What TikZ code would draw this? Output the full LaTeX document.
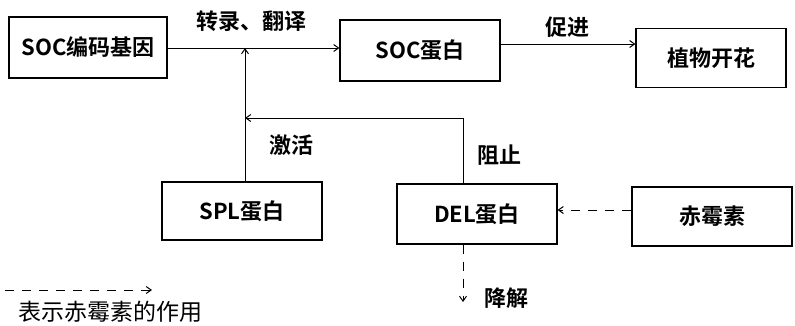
\documentclass[tikz,border=0pt]{standalone}
\usepackage{fontspec}
\setmainfont{Noto Sans CJK SC}[BoldFont={Noto Sans CJK SC Bold}]
\usetikzlibrary{arrows.meta}
\begin{document}
\begin{tikzpicture}[x=1pt,y=-1pt,
  box/.style={draw,line width=1.1pt,inner sep=0pt,font=\bfseries\fontsize{22}{24}\selectfont},
  lbl/.style={font=\bfseries\fontsize{22}{24}\selectfont,inner sep=0pt},
  arr/.style={line width=1pt,-{Straight Barb[length=5pt,width=7pt]}},
  darr/.style={line width=1pt,dash pattern=on 9pt off 8pt,-{Straight Barb[length=5pt,width=7pt]}}]
\useasboundingbox (0,0) rectangle (795,325);
\node[box,minimum width=158pt,minimum height=61pt] (gene) at (88,47.5) {SOC编码基因};
\node[box,minimum width=160pt,minimum height=61pt] (soc) at (420,50.5) {SOC蛋白};
\node[box,minimum width=150pt,minimum height=59pt] (flower) at (711,58) {植物开花};
\node[box,minimum width=160pt,minimum height=58pt] (spl) at (242,211) {SPL蛋白};
\node[box,minimum width=160pt,minimum height=60pt] (del) at (477,214) {DEL蛋白};
\node[box,minimum width=160pt,minimum height=59pt] (ga) at (712,216.5) {赤霉素};
\coordinate (j1) at (245,48);
\coordinate (j2) at (245,118);
\coordinate (c1) at (463,118);
\coordinate (deg) at (463,302);
\coordinate (lg1) at (5,290);
\coordinate (lg2) at (152,290);
\draw[arr] (gene.east |- j1) -- (soc.west |- j1);
\draw[arr] (spl.north -| j1) -- (j1);
\draw[arr] (del.north -| c1) -- (c1) -- (j2);
\draw[arr] (soc.east |- 0,44) -- (flower.west |- 0,44);
\draw[darr] (ga.west |- 0,210) -- (del.east |- 0,210);
\draw[darr] (del.south -| deg) -- (deg);
\draw[darr] (lg1) -- (lg2);
\node[lbl] (t1) at (251,21) {转录、翻译};
\node[lbl] (t2) at (567,27) {促进};
\node[lbl] (t3) at (291,145) {激活};
\node[lbl] (t4) at (499,155) {阻止};
\node[lbl] (t5) at (506,298) {降解};
\node[font=\fontsize{23}{25}\selectfont,inner sep=0pt,anchor=west] (leg) at (18,312) {表示赤霉素的作用};
\end{tikzpicture}
\end{document}
